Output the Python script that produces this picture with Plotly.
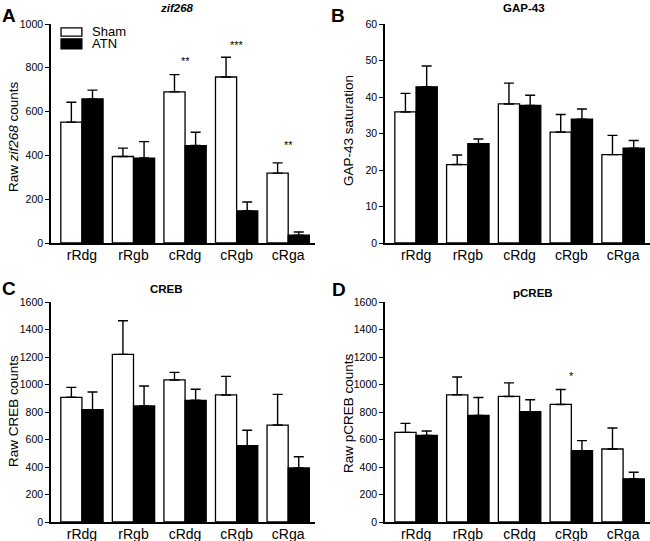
import plotly.graph_objects as go

categories = ["rRdg", "rRgb", "cRdg", "cRgb", "cRga"]

zif_sham = [552, 395, 690, 758, 319]
zif_sham_err = [91, 38, 79, 90, 47]
zif_atn = [658, 388, 445, 147, 36]
zif_atn_err = [40, 75, 61, 40, 14]

gap_sham = [35.9, 21.5, 38.1, 30.4, 24.2]
gap_sham_err = [5.1, 2.6, 5.7, 4.8, 5.3]
gap_atn = [42.8, 27.2, 37.7, 33.9, 26.0]
gap_atn_err = [5.7, 1.3, 2.8, 2.8, 2.1]

creb_sham = [907, 1219, 1033, 924, 705]
creb_sham_err = [72, 245, 55, 135, 223]
creb_atn = [817, 844, 885, 555, 393]
creb_atn_err = [128, 145, 80, 112, 82]

pcreb_sham = [652, 925, 913, 855, 531]
pcreb_sham_err = [65, 130, 99, 109, 153]
pcreb_atn = [630, 775, 802, 519, 314]
pcreb_atn_err = [32, 131, 87, 73, 48]

zif_stars = [("cRdg", 830, "**"), ("cRgb", 905, "***"), ("cRga", 448, "**")]
pcreb_stars = [("cRgb", 1065, "*")]

FONT = "Arial, Liberation Sans, sans-serif"

fig = go.Figure()

panels = [
    ("x", "y", zif_sham, zif_sham_err, zif_atn, zif_atn_err),
    ("x2", "y2", gap_sham, gap_sham_err, gap_atn, gap_atn_err),
    ("x3", "y3", creb_sham, creb_sham_err, creb_atn, creb_atn_err),
    ("x4", "y4", pcreb_sham, pcreb_sham_err, pcreb_atn, pcreb_atn_err),
]

for i, (xa, ya, s, se, a, ae) in enumerate(panels):
    fig.add_trace(go.Bar(
        x=categories, y=s, name="Sham", xaxis=xa, yaxis=ya,
        marker=dict(color="white", line=dict(color="black", width=1.3)),
        error_y=dict(type="data", array=se, arrayminus=[0] * 5, symmetric=False,
                     color="black", thickness=1.4, width=5),
        showlegend=False, offsetgroup="sham"))
    fig.add_trace(go.Bar(
        x=categories, y=a, name="ATN", xaxis=xa, yaxis=ya,
        marker=dict(color="black", line=dict(color="black", width=1.3)),
        error_y=dict(type="data", array=ae, arrayminus=[0] * 5, symmetric=False,
                     color="black", thickness=1.4, width=5),
        showlegend=False, offsetgroup="atn"))

W, H = 650, 541


def px(x):
    return x / W


def py(y):
    return 1 - y / H


xdomL = [px(51), px(315)]
xdomR = [px(385), 1.0]
ydomT = [py(243), py(24)]
ydomB = [py(522), py(302)]

xcommon = dict(type="category", range=[-0.6, 4.52], showline=True, linecolor="black",
               linewidth=1.5, ticks="", showgrid=False, zeroline=False, automargin=False,
               ticklabelstandoff=-2,
               tickfont=dict(family=FONT, size=14, color="black"))
ycommon = dict(showline=True, linecolor="black", linewidth=1.5, ticks="outside",
               ticklen=4, tickwidth=1.3, tickcolor="black", showgrid=False, zeroline=False,
               automargin=False,
               tickfont=dict(family=FONT, size=10.5, color="black"))

fig.update_layout(
    width=W, height=H, margin=dict(l=0, r=0, t=0, b=0),
    plot_bgcolor="white", paper_bgcolor="white",
    barmode="group", bargap=0.18, bargroupgap=0,
    font=dict(family=FONT, color="black"),
    xaxis=dict(domain=xdomL, anchor="y", **xcommon),
    xaxis2=dict(domain=xdomR, anchor="y2", **xcommon),
    xaxis3=dict(domain=xdomL, anchor="y3", **xcommon),
    xaxis4=dict(domain=xdomR, anchor="y4", **xcommon),
    yaxis=dict(domain=ydomT, anchor="x", range=[0, 1000], dtick=200, **ycommon),
    yaxis2=dict(domain=ydomT, anchor="x2", range=[0, 60], dtick=10, **ycommon),
    yaxis3=dict(domain=ydomB, anchor="x3", range=[0, 1600], dtick=200, **ycommon),
    yaxis4=dict(domain=ydomB, anchor="x4", range=[0, 1600], dtick=200, **ycommon),
)

# Y-axis titles
ytitles = [("Raw <i>zif268</i> counts", 13, 137), ("GAP-43 saturation", 349, 131),
           ("Raw CREB counts", 13, 411), ("Raw pCREB counts", 348, 413)]
for t, x0, y0 in ytitles:
    fig.add_annotation(text=t, x=px(x0), y=py(y0), xref="paper", yref="paper",
                       showarrow=False, textangle=-90, font=dict(size=13.5, family=FONT),
                       xanchor="center", yanchor="middle")

# Panel titles and letters
titles = [("<b><i>zif268</i></b>", 177, 8), ("<b>GAP-43</b>", 524, 8),
          ("<b>CREB</b>", 166, 289), ("<b>pCREB</b>", 533, 293)]
for t, x0, y0 in titles:
    fig.add_annotation(text=t, x=px(x0), y=py(y0), xref="paper", yref="paper",
                       showarrow=False, font=dict(size=11.5, family=FONT),
                       xanchor="center", yanchor="middle")
letters = [("A", 9, 15), ("B", 338, 15), ("C", 9, 288), ("D", 339, 289)]
for t, x0, y0 in letters:
    fig.add_annotation(text="<b>%s</b>" % t, x=px(x0), y=py(y0), xref="paper", yref="paper",
                       showarrow=False, font=dict(size=19, family=FONT),
                       xanchor="center", yanchor="middle")

# Significance stars
for c, v, s in zif_stars:
    fig.add_annotation(text=s, x=c, y=v, xref="x", yref="y", showarrow=False,
                       font=dict(size=11, family=FONT), yanchor="middle")
for c, v, s in pcreb_stars:
    fig.add_annotation(text=s, x=c, y=v, xref="x4", yref="y4", showarrow=False,
                       font=dict(size=11, family=FONT), yanchor="middle")

# Legend in panel A
leg = [("Sham", "white", 0.945, 0.982), ("ATN", "black", 0.886, 0.932)]
for name, col, y0, y1 in leg:
    fig.add_shape(type="rect", xref="x domain", yref="y domain", x0=0.038, x1=0.117,
                  y0=y0, y1=y1, fillcolor=col, line=dict(color="black", width=1.3))
    fig.add_annotation(text=name, xref="x domain", yref="y domain", x=0.148, y=(y0 + y1) / 2,
                       showarrow=False, xanchor="left", yanchor="middle",
                       font=dict(size=13, family=FONT))

# remove the page's default 8px body margin so the figure sits at the window origin
fig.write_html("out.html", config={"displayModeBar": False},
               post_script="document.body.style.margin='0';")
